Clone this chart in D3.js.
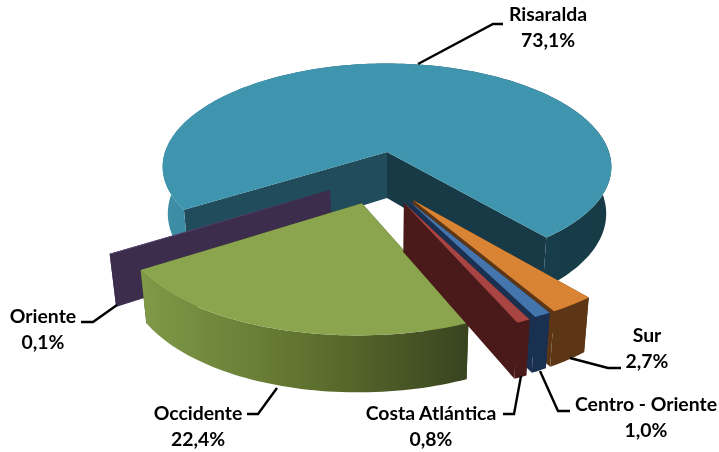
<!DOCTYPE html>
<html>
<head>
<meta charset="utf-8">
<script src="https://cdn.jsdelivr.net/npm/d3@7"></script>
<style>
body { margin: 0; background: #fff; }
svg { filter: blur(0.4px); }
text { font-family: Lato, "Open Sans", sans-serif; font-weight: 700; font-size: 19.4px; fill: #000; text-anchor: middle; }
</style>
</head>
<body>
<div id="chart"></div>
<script>
// data, clockwise from the left cut of the big slice
var categories = ['Risaralda', 'Sur', 'Centro - Oriente', 'Costa Atlántica', 'Occidente', 'Oriente'];
var values = [73.1, 2.7, 1.0, 0.8, 22.4, 0.1];
var valueLabels = ['73,1%', '2,7%', '1,0%', '0,8%', '22,4%', '0,1%'];

var topColors = ['#3f95ae', '#d98334', '#4475ad', '#a84441', '#8aa54e', '#5e4a78'];
var sideColors = ['#204c5b', '#5c3615', '#1a3050', '#4a1a1a', '#3d4922', '#3d2d4c'];

var w = 719;
var h = 452;

var svg = d3.select('#chart')
            .append('svg')
            .attr('width', w)
            .attr('height', h);

// perspective set up, unit circle on the table -> screen
var cx = 387, cy = 152;
var radiusX = 222, radiusY = 100, depth = 46, perspX = 0.145, perspY = 0.13, shrink = 0.977;

function project(x, y, z) {
    var s = 1 - (1 - shrink) * z;
    return [cx + radiusX * x * s / (1 - perspX * y), cy + (radiusY * y + depth * z) / (1 - perspY * y)];
}

// how far each slice was pulled out of the pie (table units)
var pullX = d3.scaleOrdinal().domain(categories).range([0, 0.11, 0.093, 0.071, -0.105, -0.243]);
var pullY = d3.scaleOrdinal().domain(categories).range([0, 0.453, 0.462, 0.479, 0.481, 0.362]);

var startDeg = -122.5;
var pie = d3.pie()
            .sort(null)
            .startAngle(startDeg * Math.PI / 180)
            .endAngle((startDeg + 360) * Math.PI / 180)
            .value(function(d, i) { return values[i]; });

var line = d3.line();

var defs = svg.append('defs');

function sideGradient(id, x1, x2, stops) {
    var g = defs.append('linearGradient')
                .attr('id', id)
                .attr('gradientUnits', 'userSpaceOnUse')
                .attr('x1', x1).attr('x2', x2)
                .attr('y1', 0).attr('y2', 0);
    stops.forEach(function(s) {
        g.append('stop').attr('offset', s[0]).attr('stop-color', s[1]);
    });
}
sideGradient('wall0', 163, 612, [[0, '#3f90a9'], [0.12, '#37839a'], [0.75, '#18404d'], [1, '#173a46']]);
sideGradient('wall4', 141, 471, [[0, '#7f9a48'], [0.5, '#60722f'], [1, '#38431f']]);

var arcs = pie(categories);

function rimPoint(d, a, z) {
    var ox = pullX(d.data), oy = pullY(d.data);
    return project(ox + Math.sin(a), oy - Math.cos(a), z);
}

function apexPoint(d, z) {
    return project(pullX(d.data), pullY(d.data), z);
}

function rim(d, z) {
    var n = Math.max(2, Math.ceil((d.endAngle - d.startAngle) * 40));
    return d3.range(n + 1).map(function(i) {
        return rimPoint(d, d.startAngle + (d.endAngle - d.startAngle) * i / n, z);
    });
}

function drawSlice(d) {
    var i = d.index;
    var g = svg.append('g').attr('class', 'slice');
    var wallFill = (i == 0 || i == 4) ? 'url(#wall' + i + ')' : sideColors[i];

    // cut faces, the first slice has two different shades
    g.append('path')
     .attr('d', line([apexPoint(d, 0), rimPoint(d, d.endAngle, 0), rimPoint(d, d.endAngle, 1), apexPoint(d, 1)]) + 'Z')
     .attr('fill', i == 0 ? '#183a46' : sideColors[i]);
    g.append('path')
     .attr('d', line([apexPoint(d, 0), rimPoint(d, d.startAngle, 0), rimPoint(d, d.startAngle, 1), apexPoint(d, 1)]) + 'Z')
     .attr('fill', sideColors[i]);

    // outer wall
    g.append('path')
     .attr('d', line(rim(d, 0).concat(rim(d, 1).reverse())) + 'Z')
     .attr('fill', wallFill);

    // top
    g.append('path')
     .attr('d', line([apexPoint(d, 0)].concat(rim(d, 0))) + 'Z')
     .attr('fill', topColors[i]);
}

// back to front
[0, 5, 4, 1, 2, 3].forEach(function(i) { drawSlice(arcs[i]); });

// labels + leader lines
var labelX = d3.scaleOrdinal().domain(categories).range([548, 647, 646, 431, 198, 43]);
var labelY = d3.scaleOrdinal().domain(categories).range([21, 342, 411, 420, 420, 323]);
var leaders = d3.scaleOrdinal().domain(categories).range([
    [[418, 64], [493, 24], [503, 24]],
    [[570, 358], [608, 368], [621, 368]],
    [[540, 371], [558, 411], [570, 411]],
    [[521, 376], [514, 414], [503, 414]],
    [[277, 388], [258, 414], [247, 414]],
    [[117, 305], [93, 322], [81, 322]]
]);

svg.selectAll('path.leader')
   .data(categories)
   .enter()
   .append('path')
   .attr('class', 'leader')
   .attr('d', function(d) { return line(leaders(d)); })
   .attr('fill', 'none')
   .attr('stroke', '#000')
   .attr('stroke-width', 2.4);

var labels = svg.selectAll('text.name')
                .data(categories)
                .enter()
                .append('text')
                .attr('class', 'name')
                .attr('x', function(d) { return labelX(d); })
                .attr('y', function(d) { return labelY(d); });

labels.append('tspan').text(function(d) { return d; });
labels.append('tspan')
      .attr('x', function(d) { return labelX(d); })
      .attr('dy', 26)
      .text(function(d, i) { return valueLabels[i]; });
</script>
</body>
</html>
